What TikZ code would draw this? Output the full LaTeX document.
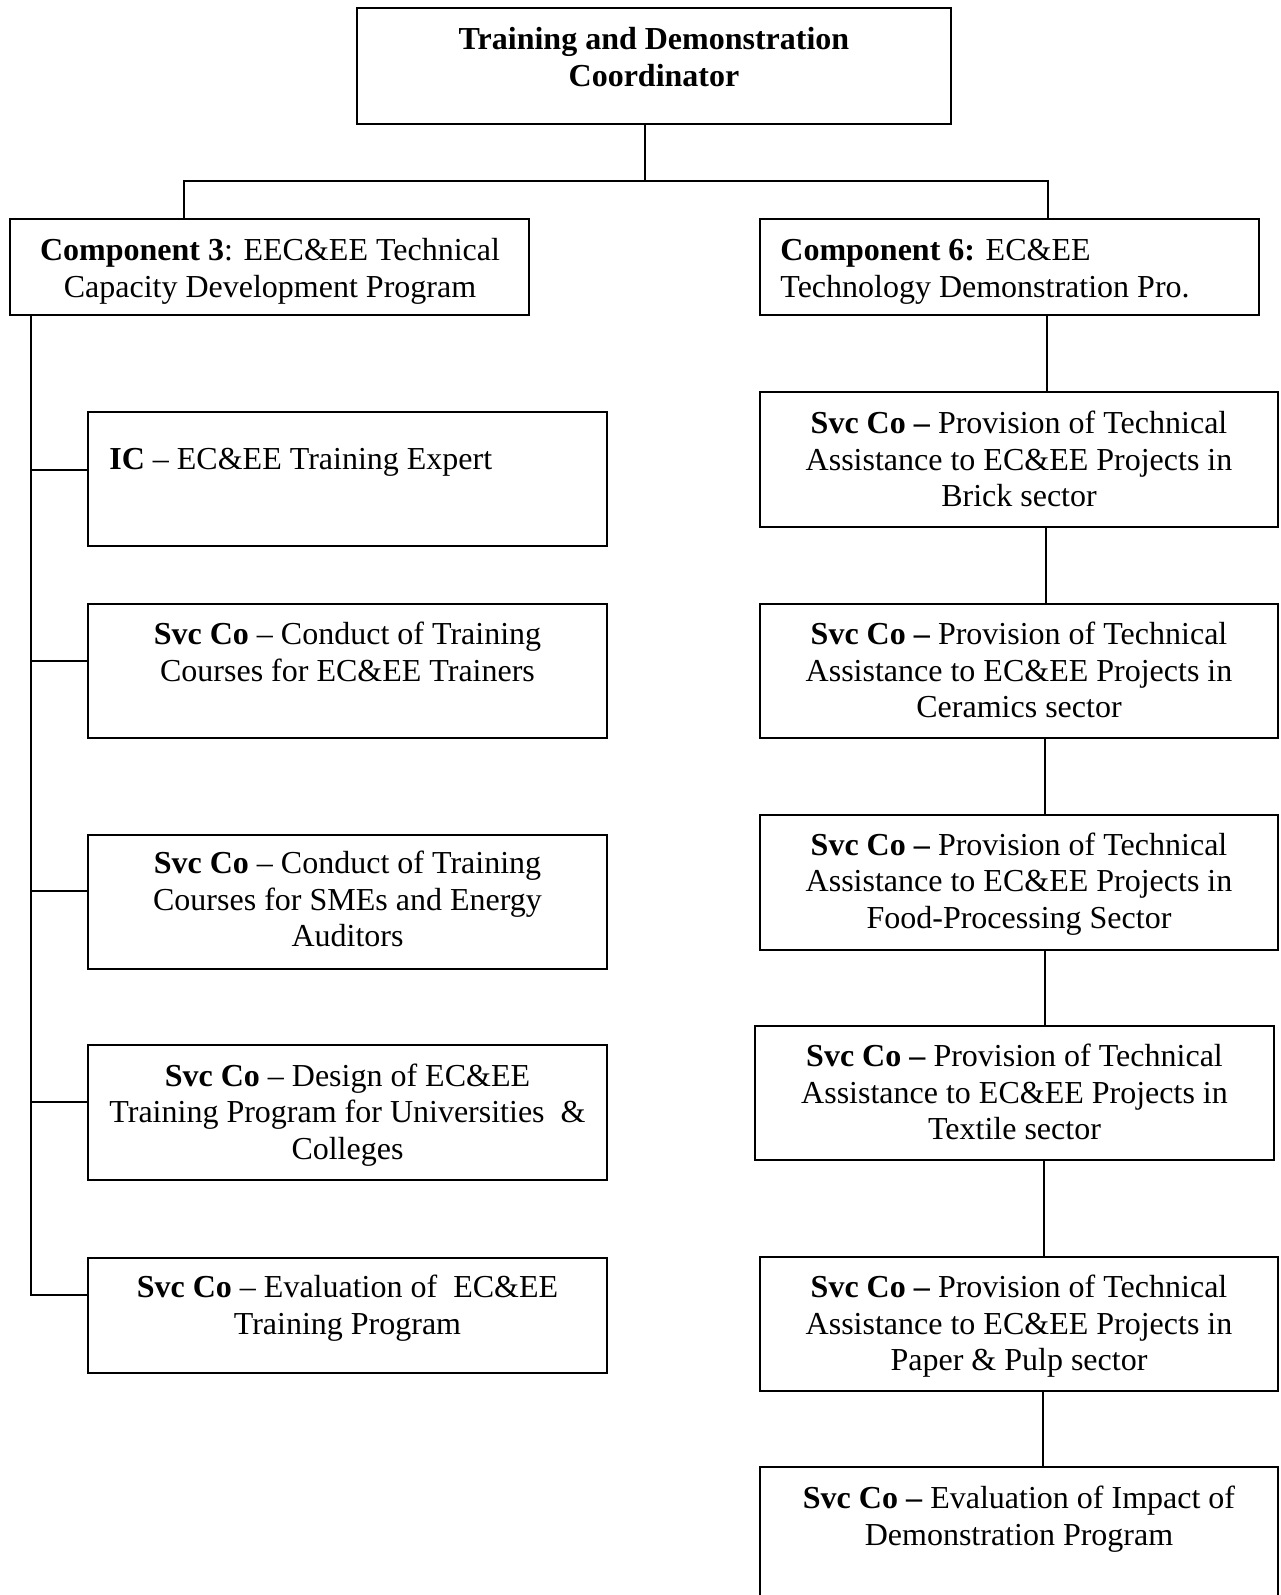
\documentclass[tikz,border=0pt]{standalone}
\usepackage{fontspec}
\setmainfont{Liberation Serif}
\newcommand\chartfont{\fontsize{16}{18.25}\selectfont}
\begin{document}
\begin{tikzpicture}[x=0.5pt,y=-0.5pt,
  box/.style={draw, line width=0.8pt, inner sep=0pt, outer sep=0pt, minimum width=259.5pt},
  txt/.style={inner sep=0pt, align=center, font=\chartfont, anchor=north},
  link/.style={draw, line width=0.8pt}]
\useasboundingbox (0,0) rectangle (1280,1595);
\clip (0,0) rectangle (1280,1595);

% coordinator and the two components
\node[box, minimum width=297pt, minimum height=58pt] (top) at (654,66) {};
\node[box, minimum width=259.5pt, minimum height=48pt] (c3) at (269.5,267) {};
\node[box, minimum width=249.5pt, minimum height=48pt] (c6) at (1009.5,267) {};

% left column
\node[box, minimum height=67pt] (ic) at (347.5,479) {};
\node[box, minimum height=67pt] (s1) at (347.5,671) {};
\node[box, minimum height=67pt] (s2) at (347.5,902) {};
\node[box, minimum height=67.5pt] (s3) at (347.5,1112.5) {};
\node[box, minimum height=57.5pt] (s4) at (347.5,1315.5) {};

% right column
\node[box, minimum width=259pt, minimum height=67.5pt] (brick) at (1019,459.5) {};
\node[box, minimum width=259pt, minimum height=67pt] (cer) at (1019,671) {};
\node[box, minimum width=259pt, minimum height=67.5pt] (food) at (1019,882.5) {};
\node[box, minimum width=259.5pt, minimum height=67pt] (tex) at (1014.5,1093) {};
\node[box, minimum width=259pt, minimum height=67pt] (pap) at (1019,1324) {};
\node[box, minimum width=259pt, minimum height=96.5pt] (ev) at (1019,1563.5) {};

% labels
\node[txt, font=\chartfont\bfseries] (ttop) at (654,24) {\strut Training and Demonstration\\Coordinator};
\node[txt] (tc3) at (270,235) {\strut\textbf{Component 3}: EEC\&EE Technical\\Capacity Development Program};
\node[txt, anchor=north west, align=left] (tc6) at (780,235) {\strut\textbf{Component 6:} EC\&EE\\Technology Demonstration Pro.};
\node[txt, anchor=north west, align=left] (tic) at (109,444) {\strut\textbf{IC} \textendash{} EC\&EE Training Expert};
\node[txt] (ts1) at (347.5,619) {\strut\textbf{Svc Co} \textendash{} Conduct of Training\\Courses for EC\&EE Trainers};
\node[txt] (ts2) at (347.5,848) {\strut\textbf{Svc Co} \textendash{} Conduct of Training\\Courses for SMEs and Energy\\Auditors};
\node[txt] (ts3) at (347.5,1060.5) {\strut\textbf{Svc Co} \textendash{} Design of EC\&EE\\Training Program for Universities\ \ \&\\Colleges};
\node[txt] (ts4) at (347.5,1272) {\strut\textbf{Svc Co} \textendash{} Evaluation of\ \ EC\&EE\\Training Program};
\node[txt] (tbrick) at (1019,408) {\strut\textbf{Svc Co \textendash} Provision of Technical\\Assistance to EC\&EE Projects in\\Brick sector};
\node[txt] (tcer) at (1019,619) {\strut\textbf{Svc Co \textendash} Provision of Technical\\Assistance to EC\&EE Projects in\\Ceramics sector};
\node[txt] (tfood) at (1019,829.5) {\strut\textbf{Svc Co \textendash} Provision of Technical\\Assistance to EC\&EE Projects in\\Food-Processing Sector};
\node[txt] (ttex) at (1014.5,1041) {\strut\textbf{Svc Co \textendash} Provision of Technical\\Assistance to EC\&EE Projects in\\Textile sector};
\node[txt] (tpap) at (1019,1272) {\strut\textbf{Svc Co \textendash} Provision of Technical\\Assistance to EC\&EE Projects in\\Paper \& Pulp sector};
\node[txt] (tev) at (1019,1483) {\strut\textbf{Svc Co \textendash} Evaluation of Impact of\\Demonstration Program};

% top junction
\coordinate (j0) at (645,181);
\coordinate (jl) at (184,181);
\coordinate (jr) at (1048,181);
\draw[link] (top.south -| j0) -- (j0);
\draw[link] (jl |- c3.north) -- (jl) -- (jr) -- (jr |- c6.north);

% left spine with branches
\coordinate (b1) at (31,470);
\coordinate (b2) at (31,661);
\coordinate (b3) at (31,891);
\coordinate (b4) at (31,1102);
\coordinate (b5) at (31,1295);
\draw[link] (c3.south -| b1) -- (b5) -- (b5 -| s4.west);
\draw[link] (b1) -- (b1 -| ic.west);
\draw[link] (b2) -- (b2 -| s1.west);
\draw[link] (b3) -- (b3 -| s2.west);
\draw[link] (b4) -- (b4 -| s3.west);

% right chain
\coordinate (r1) at (1047,0);
\coordinate (r2) at (1046,0);
\coordinate (r3) at (1045,0);
\coordinate (r4) at (1045,0);
\coordinate (r5) at (1044,0);
\coordinate (r6) at (1043,0);
\draw[link] (c6.south -| r1) -- (brick.north -| r1);
\draw[link] (brick.south -| r2) -- (cer.north -| r2);
\draw[link] (cer.south -| r3) -- (food.north -| r3);
\draw[link] (food.south -| r4) -- (tex.north -| r4);
\draw[link] (tex.south -| r5) -- (pap.north -| r5);
\draw[link] (pap.south -| r6) -- (ev.north -| r6);
\end{tikzpicture}
\end{document}
